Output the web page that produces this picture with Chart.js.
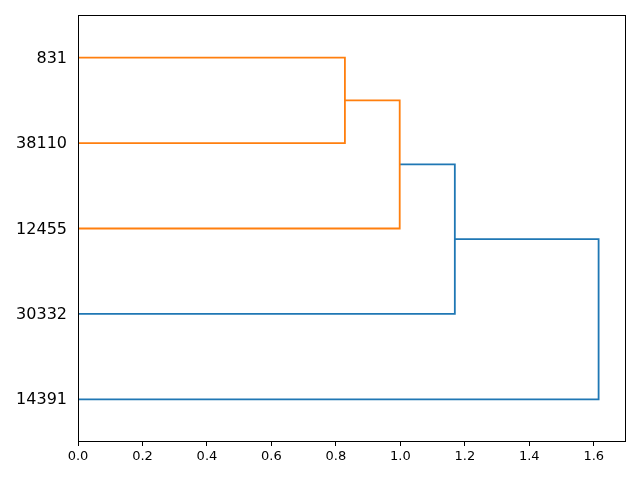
<!DOCTYPE html>
<html>
<head>
<meta charset="utf-8">
<script src="https://cdn.jsdelivr.net/npm/chart.js@4/dist/chart.umd.min.js"></script>
<style>
  html, body { margin: 0; padding: 0; background: #fff; }
  #wrap { width: 640px; height: 480px; }
</style>
</head>
<body>
<div id="wrap"><canvas id="chart"></canvas></div>
<script>
"use strict";

// leaf labels, bottom to top, and their positions on the leaf axis
const leafLabels = ['14391', '30332', '12455', '38110', '831']
const leafPositions = [5, 15, 25, 35, 45]

// each link: leaf-axis coords (icoord) and distance coords (dcoord), like scipy
const icoord = [
	[35, 35, 45, 45],
	[25, 25, 40, 40],
	[15, 15, 32.5, 32.5],
	[5, 5, 23.75, 23.75]
]
const dcoord = [
	[0, 0.828, 0.828, 0],
	[0, 0.998, 0.998, 0.828],
	[0, 1.169, 1.169, 0.998],
	[0, 1.615, 1.615, 1.169]
]
const linkColors = ['#ff7f0e', '#ff7f0e', '#1f77b4', '#1f77b4']

const xTicks = [0, 0.2, 0.4, 0.6, 0.8, 1.0, 1.2, 1.4, 1.6]

const datasets = icoord.map((ic, i) => ({
	data: ic.map((y, j) => ({ x: dcoord[i][j], y: y })),
	showLine: true,
	borderColor: linkColors[i],
	borderWidth: 1.8,
	pointRadius: 0,
	fill: false,
	tension: 0
}))

// matplotlib-style box round the plot area
const frame = {
	id: 'frame',
	afterDraw(chart) {
		const a = chart.chartArea
		const ctx = chart.ctx
		ctx.save()
		ctx.strokeStyle = '#000'
		ctx.lineWidth = 1
		ctx.strokeRect(Math.round(a.left) + 0.5, Math.round(a.top) + 0.5,
			Math.round(a.right - a.left) - 1, Math.round(a.bottom - a.top) - 1)
		ctx.restore()
	}
}

function noPad(scale) {
	scale.paddingTop = 0
	scale.paddingBottom = 0
	scale.paddingLeft = 0
	scale.paddingRight = 0
}

new Chart(document.getElementById('chart'), {
	type: 'scatter',
	data: { datasets: datasets },
	plugins: [frame],
	options: {
		responsive: true,
		maintainAspectRatio: false,
		animation: false,
		layout: { padding: { left: 0, right: 14, top: 15, bottom: 0 } },
		plugins: {
			legend: { display: false },
			tooltip: { enabled: false }
		},
		scales: {
			x: {
				type: 'linear',
				min: 0,
				max: 1.7,
				afterBuildTicks: (scale) => { scale.ticks = xTicks.map(v => ({ value: v })) },
				afterFit: (scale) => { scale.height = 38; noPad(scale) },
				border: { display: false },
				grid: { display: true, drawOnChartArea: false, drawTicks: true, tickLength: 4, color: '#000' },
				ticks: {
					color: '#000',
					font: { family: 'DejaVu Sans', size: 13 },
					padding: 3,
					maxRotation: 0,
					autoSkip: false,
					callback: (v) => Number(v).toFixed(1)
				}
			},
			y: {
				type: 'linear',
				min: 0,
				max: 50,
				afterBuildTicks: (scale) => { scale.ticks = leafPositions.map(v => ({ value: v })) },
				afterFit: (scale) => { scale.width = 78; noPad(scale) },
				border: { display: false },
				grid: { display: false, drawTicks: false },
				ticks: {
					color: '#000',
					font: { family: 'DejaVu Sans', size: 16 },
					padding: 11,
					labelOffset: 1,
					autoSkip: false,
					callback: (v) => leafLabels[leafPositions.indexOf(v)]
				}
			}
		}
	}
})
</script>
</body>
</html>
